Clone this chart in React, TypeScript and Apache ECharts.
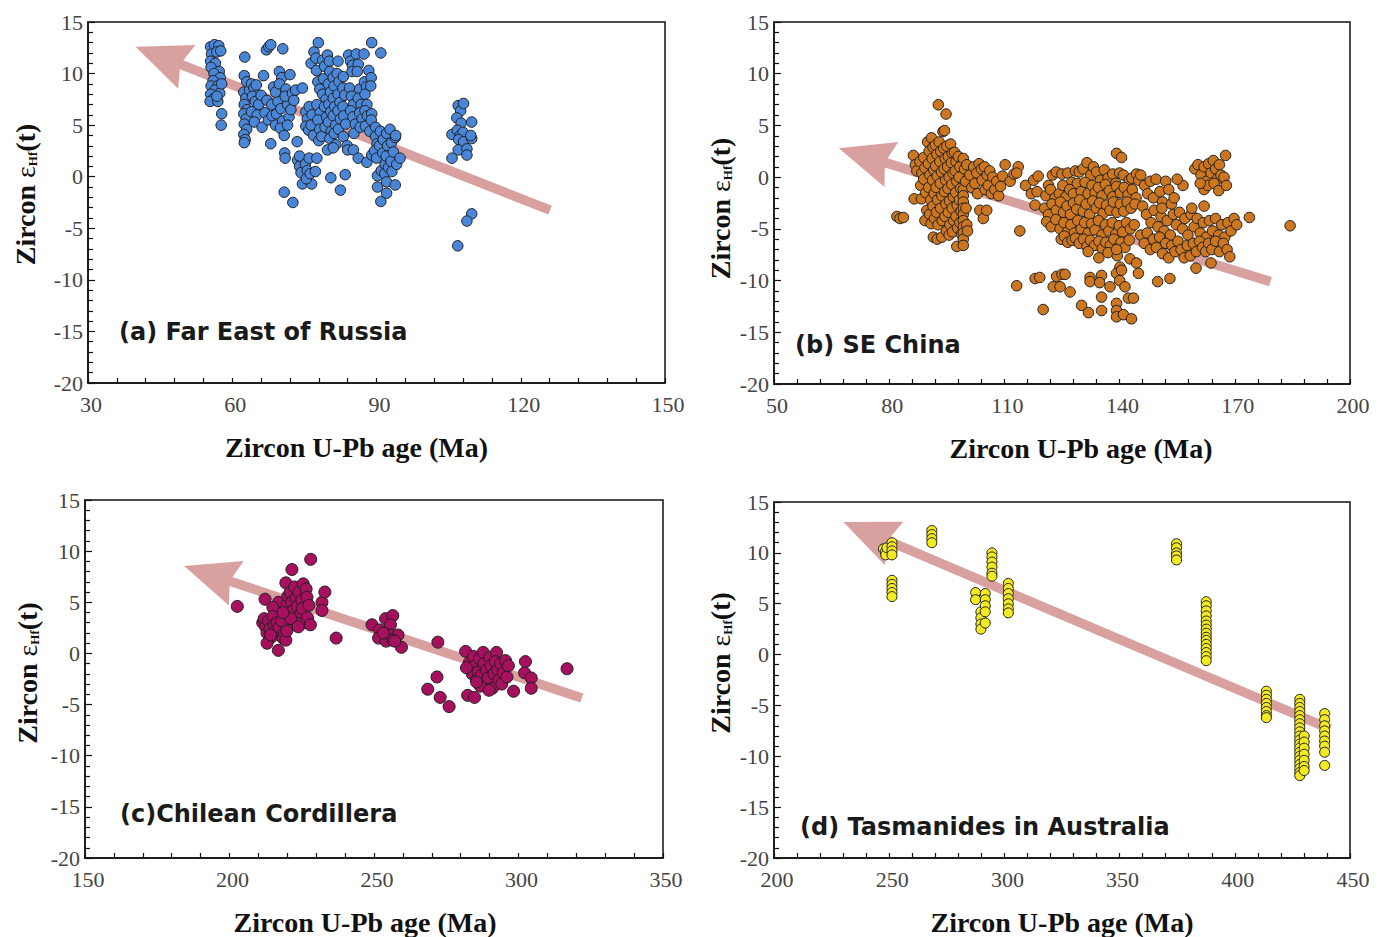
import React, { useEffect, useRef } from "react";
import * as echarts from "echarts";

// ---------- data ----------
const panelTitles = [
  "(a) Far East of Russia",
  "(b) SE China",
  "(c)Chilean Cordillera",
  "(d) Tasmanides in Australia",
];
const xName = "Zircon U-Pb age (Ma)";
const yName = "Zircon {eps|ε}{sub|Hf}(t)";
const xMin = [30, 50, 150, 200];
const xMax = [150, 200, 350, 450];
const xStep = [30, 30, 50, 50];
const yMin = -20;
const yMax = 15;
const yStep = 5;

const dataA = [
  [55.5,12.6],[56.3,12.8],[57.2,12.7],[55.7,11.9],[56.8,12.1],[57.6,12.2],[55.5,11.2],[56.5,11.0],[55.6,10.6],[57.3,10.2],
  [56.2,10.0],[57.5,9.6],[56.0,9.3],[55.6,8.8],[57.0,8.8],[56.4,8.4],[55.5,8.0],[57.4,8.1],[56.2,7.6],[55.4,7.3],
  [57.0,7.3],[56.8,7.8],[57.8,6.1],[57.7,5.0],[57.8,9.0],
  [62.6,11.6],[62.5,9.8],[63.0,9.2],[62.4,8.2],[62.8,7.6],[62.5,7.0],[63.1,6.5],[62.4,6.1],[62.9,5.6],[62.5,5.1],
  [63.0,4.6],[62.4,4.1],[62.7,3.6],[62.5,3.3],[63.6,8.4],[64.0,9.0],[64.5,8.6],[65.0,8.9],[64.2,7.8],[64.8,7.3],
  [64.0,6.3],[65.2,6.0],[64.6,5.3],[65.5,7.0],[66.0,7.9],[66.5,9.8],[66.2,4.8],[67.1,12.3],[67.6,12.6],[68.0,12.8],
  [68.0,3.2],[66.8,6.2],[67.5,5.5],[67.2,7.4],[68.2,7.0],[68.6,8.7],[68.3,5.9],[69.0,5.0],[69.2,6.1],[69.5,7.3],
  [69.0,8.2],[69.8,10.2],[70.3,9.6],[69.8,9.0],[70.1,6.6],[70.5,5.4],[70.0,4.7],[70.8,4.0],[70.5,12.4],[70.9,2.3],
  [71.0,1.8],[70.8,-1.5],[71.2,8.5],[71.5,7.0],[71.0,7.8],[71.8,5.8],[71.5,5.0],[72.0,9.9],[72.2,6.5],[72.5,8.1],
  [72.8,7.4],[73.2,8.4],[72.6,-2.5],[73.5,3.4],[73.6,1.6],[74.0,1.0],[74.3,0.4],[74.6,-0.7],[74.0,2.0],[74.6,8.6],
  [75.2,1.2],[75.6,0.6],[76.0,1.8],[76.5,-0.7],[75.4,-0.2],[76.2,0.3],
  [75.3,6.3],[75.6,5.6],[75.3,4.9],[75.9,4.5],[76.4,11.0],[76.0,6.8],[76.6,6.0],[76.4,5.0],[76.9,4.0],[77.0,12.1],
  [77.4,11.5],[77.9,13.0],[77.5,10.3],[77.8,9.2],[78.2,8.5],[77.6,7.0],[78.3,6.2],[77.8,5.5],[78.2,4.6],[78.0,3.5],
  [78.6,3.9],[77.3,0.5],[77.6,1.8],[78.8,11.3],[79.2,10.7],[79.0,9.5],[78.8,8.0],[79.5,7.5],[79.2,6.8],[79.6,5.8],
  [79.3,4.8],[79.8,11.8],[80.2,11.2],[80.3,10.2],[80.0,9.0],[80.4,8.2],[80.1,7.0],[80.5,6.3],[80.0,5.3],[80.6,4.4],
  [80.3,3.7],[79.8,2.6],[80.5,-0.1],[81.0,9.6],[81.2,8.8],[81.0,7.6],[81.3,6.8],[81.0,5.9],[81.5,5.0],[81.2,4.2],
  [81.5,3.1],[81.0,2.8],[82.0,11.2],[81.8,10.0],[82.2,9.2],[82.0,8.0],[82.4,7.2],[82.0,6.4],[82.5,5.6],[82.1,4.6],
  [82.5,-1.3],[83.1,9.7],[83.0,8.6],[83.4,7.9],[83.0,6.8],[83.2,5.9],[83.6,5.1],[83.1,3.9],[83.9,3.0],[84.0,2.6],
  [83.5,0.2],
  [84.2,11.8],[84.6,11.2],[85.0,10.8],[84.9,10.2],[84.4,8.6],[84.8,7.8],[85.2,7.0],[84.6,6.4],[85.1,5.8],[85.6,5.1],
  [85.3,4.2],[85.2,2.6],[85.8,11.9],[86.2,10.9],[86.0,10.2],[86.5,8.5],[86.2,7.6],[86.8,7.0],[86.5,6.2],[87.0,5.6],
  [86.6,4.8],[86.2,1.8],[87.4,11.9],[87.5,9.2],[87.9,8.7],[87.6,8.0],[88.0,7.0],[87.6,6.4],[88.1,5.9],[87.7,4.9],
  [88.0,1.4],[88.4,10.3],[88.9,9.6],[88.8,8.8],[89.0,6.1],[88.9,5.5],[88.6,4.4],[89.0,13.0],[89.0,2.1],[89.8,4.8],
  [89.8,3.9],[90.1,3.2],[89.6,2.5],[90.0,1.8],[90.9,12.0],[90.2,0.1],[90.2,-1.0],[90.9,-2.4],
  [90.8,4.4],[90.6,3.0],[91.0,0.6],[91.4,3.6],[91.3,2.3],[91.8,1.2],[91.7,0.3],[92.1,4.2],[92.3,3.0],[92.0,2.0],
  [92.5,0.9],[92.1,-0.5],[92.1,-1.6],[92.8,4.6],[93.1,3.3],[93.0,1.5],[93.2,0.5],[93.5,2.4],[93.9,3.8],[93.9,-0.8],
  [94.2,1.2],[94.9,1.8],[94.0,4.0],
  [107.0,6.9],[107.5,6.4],[108.1,7.1],[106.7,5.7],[107.6,5.2],[109.8,5.3],[105.7,4.1],[106.8,4.5],[107.4,4.0],[108.0,4.3],
  [107.1,3.6],[108.1,3.4],[109.8,3.7],[107.0,2.6],[108.8,2.7],[108.8,2.1],[105.7,1.8],[109.8,-3.6],[108.8,-4.3],[106.9,-6.7],
  [109.6,4.0],
];

const dataB = [
  [86.3,2.1],[86.8,1.2],[87.2,0.6],[86.5,-2.1],[88.4,-2.1],[82.0,-3.8],[82.8,-4.0],[83.7,-3.9],
  [88.0,1.5],[88.5,0.4],[88.2,-0.8],[89.0,1.9],[89.3,0.9],[89.0,-0.2],[89.5,-1.5],[89.8,-3.2],[89.3,-4.2],[90.0,3.4],
  [90.4,2.5],[90.2,1.3],[90.6,0.2],[90.3,-1.0],[90.8,-2.2],[90.5,-3.6],[90.9,-4.5],[91.0,3.8],[91.4,2.9],[91.2,1.8],
  [91.6,0.7],[91.3,-0.3],[91.7,-1.6],[91.4,-2.8],[91.8,-4.0],[91.5,-5.8],[92.0,3.1],[92.4,2.2],[92.1,1.1],[92.5,0.1],
  [92.2,-1.0],[92.6,-2.2],[92.3,-3.4],[92.7,-4.6],[92.5,-6.0],[92.8,7.0],[93.0,3.4],[93.4,2.5],[93.2,1.5],[93.6,0.5],
  [93.3,-0.6],[93.7,-1.8],[93.4,-3.0],[93.8,-4.2],[93.7,-5.8],[94.0,4.4],[94.4,4.5],[94.2,2.8],[94.6,1.8],[94.3,0.8],
  [94.7,-0.3],[94.4,-1.4],[94.8,-2.6],[94.5,-3.8],[94.9,-5.2],[94.8,6.1],[95.0,3.0],[95.4,2.0],[95.2,1.0],[95.6,0.0],
  [95.3,-1.1],[95.7,-2.3],[95.4,-3.4],[95.8,-4.6],[95.6,-5.6],[96.0,3.2],[96.4,2.3],[96.2,1.4],[96.6,0.4],[96.3,-0.7],
  [96.7,-1.9],[96.4,-3.0],[96.8,-4.2],[96.5,-5.3],[97.0,2.4],[97.4,1.5],[97.2,0.6],[97.6,-0.4],[97.3,-1.5],[97.7,-2.7],
  [97.4,-3.8],[97.8,-4.9],[97.6,-6.7],[98.0,2.0],[98.4,1.0],[98.2,0.0],[98.6,-1.1],[98.3,-2.2],[98.7,-3.3],[98.4,-4.4],
  [98.8,-5.5],[99.3,1.8],[99.3,-1.2],[99.3,-1.8],[99.3,-2.4],[99.3,-3.0],[99.3,-3.6],[99.3,-4.2],[99.3,-4.8],[99.3,-5.4],
  [99.3,-6.0],[99.3,-6.6],[99.6,0.8],[99.9,-0.4],[100.2,1.2],[100.0,-3.0],[100.2,-4.6],[100.4,-5.2],
  [101.0,0.2],[101.5,-1.0],[102.0,1.0],[102.3,-0.6],[102.8,0.4],[103.0,-1.6],[103.4,1.3],[103.6,-3.2],[104.0,0.8],[104.2,-0.3],
  [104.5,-4.0],[104.8,1.0],[105.0,-1.2],[105.4,-3.2],[105.5,0.2],[105.8,-0.8],[106.2,0.6],[106.6,-1.6],[107.0,0.0],[107.5,-1.2],
  [108.0,-0.4],[108.5,-1.8],[109.0,-0.9],[109.5,0.1],[110.2,1.2],[111.5,-0.4],[112.5,0.3],[113.6,1.0],[113.2,0.4],[114.0,-5.2],
  [115.5,-0.8],[117.0,-1.6],[118.0,-2.7],[117.6,-0.3],[118.8,0.1],[118.5,-1.4],
  [121.5,-0.8],[122.5,0.2],[123.5,0.5],[125.0,0.3],[126.5,0.4],[127.5,-0.5],[128.5,0.6],[129.5,0.5],[130.5,0.8],[131.5,1.4],
  [132.5,0.2],[133.2,1.0],[134.0,0.5],[135.0,-0.3],[136.0,0.7],[137.0,-0.1],[138.2,0.3],[139.0,-0.6],[140.0,0.4],[141.0,0.2],
  [142.5,-0.3],[143.2,-0.1],[144.4,0.3],[145.0,-0.3],
  [120.8,-1.8],[122.0,-1.2],[123.2,-2.0],[124.3,-1.6],[125.2,-0.8],[126.0,-1.9],[127.0,-1.2],[128.0,-1.6],[129.0,-0.6],[130.0,-1.4],
  [131.0,-0.5],[131.8,-1.6],[132.8,-0.8],[133.6,-1.5],[134.5,-1.0],[135.4,-1.8],[136.3,-0.7],[137.3,-1.3],[138.2,-1.9],[139.2,-0.9],
  [140.2,-1.5],[141.2,-1.0],[142.2,-1.7],[143.3,-1.2],[144.3,-2.0],
  [120.5,-3.0],[121.5,-3.6],[122.4,-2.6],[123.5,-3.2],[124.6,-2.4],[125.4,-3.4],[126.3,-2.8],[127.2,-3.6],[128.0,-2.5],[128.8,-3.1],
  [129.6,-2.2],[130.5,-3.3],[131.3,-2.6],[132.2,-3.6],[133.0,-2.3],[133.9,-3.0],[134.8,-2.5],[135.7,-3.5],[136.6,-2.7],[137.5,-3.2],
  [138.4,-2.4],[139.3,-3.4],[140.2,-2.6],[141.1,-3.3],[142.0,-2.4],[143.0,-3.0],[144.0,-2.6],
  [121.0,-4.3],[122.2,-4.8],[123.4,-4.1],[124.5,-5.0],[125.5,-4.4],[126.4,-5.3],[127.3,-4.6],[128.2,-5.4],[129.1,-4.2],[130.0,-5.0],
  [130.9,-4.4],[131.8,-5.4],[132.7,-4.5],[133.6,-5.1],[134.5,-4.2],[135.4,-5.6],[136.3,-4.6],[137.2,-5.2],[138.1,-4.4],[139.0,-5.5],
  [139.9,-4.7],[140.8,-5.3],[141.8,-4.4],[142.8,-5.0],[143.8,-4.6],
  [124.8,-6.0],[125.6,-5.7],[126.5,-6.3],[127.6,-6.1],[128.5,-5.9],[129.5,-6.4],[130.6,-6.0],[131.5,-6.7],[132.4,-6.1],[133.5,-6.6],
  [134.6,-6.2],[135.5,-6.9],[136.4,-6.3],[137.6,-6.6],[138.5,-6.0],[139.4,-6.9],[140.4,-6.3],[141.4,-6.8],[142.5,-6.1],[131.8,-7.2],
  [134.6,-7.8],[137.0,-7.3],[139.4,-7.6],[140.1,-8.7],[142.7,-7.9],[144.4,-8.3],[139.2,-7.0],
  [139.2,2.3],[140.5,1.9],
  [145.5,0.2],[146.5,-0.8],[147.3,-1.6],[148.0,-0.4],[148.8,-2.0],[149.5,-0.2],[150.5,-1.4],[151.2,-2.4],[152.0,-0.4],[152.8,-1.2],
  [153.5,-2.6],[146.0,-2.8],[147.0,-3.6],[148.2,-4.4],[149.0,-3.2],[150.0,-4.8],[150.8,-3.8],[151.6,-5.2],[152.4,-4.2],[153.2,-5.6],
  [154.0,-3.6],[154.8,-4.6],[155.6,-3.4],[156.4,-5.0],[157.0,-4.0],[157.8,-5.6],[158.6,-3.6],[159.4,-4.8],[160.2,-4.0],[161.0,-5.4],
  [161.8,-4.4],[162.6,-5.8],[163.4,-4.2],[164.2,-5.2],[165.0,-4.0],[165.8,-5.6],[166.6,-4.6],[167.4,-5.8],[168.2,-4.4],[169.0,-5.2],
  [169.8,-4.0],[170.5,-4.6],[145.5,-5.6],[146.4,-6.4],[147.2,-5.4],[148.0,-7.0],[148.8,-6.0],[149.6,-6.8],[150.4,-5.8],[151.2,-7.4],
  [152.0,-6.4],[152.8,-7.8],[153.6,-6.6],[154.4,-7.2],[155.2,-6.2],[156.0,-7.0],[156.8,-7.8],[157.6,-6.6],[158.4,-7.6],[159.2,-6.4],
  [160.0,-7.2],[160.8,-6.2],[161.6,-6.8],[162.4,-7.2],[163.2,-6.4],[164.0,-7.0],[165.0,-6.2],[166.0,-7.2],[167.0,-6.4],[168.0,-7.0],
  [168.7,-7.7],[163.8,-8.3],[159.9,-8.8],[153.1,-9.8],[149.9,-10.1],[144.9,-9.3],[156.5,-0.8],[173.8,-3.9],[184.4,-4.7],[155.0,-0.2],
  [154.2,-2.0],[158.8,-3.0],[162.0,-2.8],[151.0,-3.0],
  [159.6,0.8],[160.4,1.2],[161.2,0.2],[162.0,1.0],[162.6,-0.4],[163.2,1.3],[163.8,0.4],[164.4,1.6],[165.0,0.8],[165.4,-0.2],
  [166.0,1.2],[166.4,0.2],[162.0,-1.2],[163.0,-0.8],[164.6,-0.6],[165.8,-1.3],[167.2,0.0],[167.8,-0.8],[167.6,2.1],[161.0,-0.6],
  [113.2,-10.5],[118.0,-9.8],[119.2,-9.7],[120.1,-12.8],[122.7,-10.6],[123.6,-9.6],[124.5,-10.6],[125.0,-9.4],[125.8,-9.4],[127.1,-11.1],
  [130.1,-12.4],[131.9,-13.1],[132.3,-9.7],[132.3,-10.1],[135.3,-9.5],[135.3,-11.6],[135.3,-12.9],[137.5,-10.6],[139.2,-9.3],[140.0,-10.0],
  [141.4,-10.6],[139.2,-12.2],[139.2,-12.9],[139.2,-13.5],[141.0,-13.3],[142.3,-11.7],[143.1,-13.7],[140.5,-9.0],[143.6,-11.7],[134.8,-10.2],
];

const dataC = [
  [202.7,4.6],[212.3,5.3],[217.0,5.0],[215.0,4.5],[211.5,3.0],[212.0,3.4],[212.5,2.6],[213.0,2.0],[213.5,3.2],[214.0,2.4],
  [214.5,1.6],[215.0,3.6],[215.5,2.8],[216.0,2.2],[216.5,3.0],[217.2,2.6],[218.0,3.2],[218.5,1.5],[219.0,2.0],[213.0,1.0],
  [214.2,1.8],[216.9,0.3],[219.5,1.3],[219.5,6.9],[221.6,8.2],[228.1,9.2],[220.0,4.8],[220.5,3.8],[220.2,5.6],[221.0,6.0],
  [221.5,5.0],[222.0,4.2],[222.5,6.5],[222.8,3.3],[223.0,5.4],[223.5,4.6],[224.0,6.0],[224.5,3.8],[225.0,5.2],[225.5,6.8],
  [225.2,4.4],[226.0,3.0],[226.5,6.3],[226.8,5.5],[227.0,3.5],[227.5,4.7],[228.0,2.8],[222.0,2.8],[224.0,2.9],[221.2,3.4],
  [232.0,5.0],[232.0,4.2],[233.0,6.0],[236.9,1.5],[219.8,2.2],[218.5,4.0],[223.8,2.6],
  [249.3,2.8],[251.9,2.3],[251.6,1.5],[254.0,3.4],[256.5,3.7],[255.7,2.8],[254.2,1.2],[255.7,1.8],[258.3,1.8],[259.5,0.6],
  [256.5,1.3],[253.2,2.0],[257.2,1.2],
  [272.1,1.1],[271.8,-2.3],[268.6,-3.5],[272.9,-4.3],[276.0,-5.2],
  [281.7,0.2],[283.0,-0.9],[283.5,-1.5],[284.0,-2.0],[284.5,-0.3],[285.0,-1.2],[285.5,-2.6],[286.0,-1.8],[286.5,-0.5],[287.0,-2.2],
  [287.8,0.1],[288.0,-1.0],[288.5,-3.0],[289.0,-1.6],[289.5,-2.4],[290.0,-0.4],[290.5,-1.2],[291.0,-3.4],[291.5,-2.0],[292.4,0.1],
  [292.0,-0.8],[292.8,-1.6],[293.2,-2.6],[293.8,-1.0],[294.2,-3.0],[294.8,-1.9],[295.5,-0.7],[296.0,-2.3],[282.4,-4.1],[284.8,-4.3],
  [282.0,-1.4],[286.8,-3.2],[289.8,-3.6],[302.4,-0.8],[302.1,-1.9],[304.4,-2.4],[304.4,-3.4],[298.3,-3.7],[316.8,-1.5],[296.5,-1.2],
  [285.5,-2.8],
];

const dataD = [
  [247.5,10.4],[248.3,10.1],[248.5,9.8],[249.0,10.5],[251.2,11.0],[251.2,10.6],[251.2,10.2],[251.2,9.8],
  [251.2,7.3],[251.2,6.9],[251.2,6.5],[251.2,6.1],[251.2,5.7],
  [268.5,12.2],[268.5,11.8],[268.5,11.4],[268.5,11.0],
  [287.5,6.1],[287.5,5.4],[289.8,4.2],[289.8,3.6],[289.8,3.0],[289.8,2.5],
  [291.7,6.0],[291.7,5.4],[291.7,4.8],[291.7,4.2],[291.7,3.1],
  [294.6,10.0],[294.6,9.6],[294.6,9.1],[294.6,8.6],[294.6,8.0],[294.6,7.7],
  [301.7,7.0],[301.7,6.5],[301.7,6.0],[301.7,5.5],[301.7,5.0],[301.7,4.5],[301.7,4.1],
  [374.7,10.9],[374.7,10.5],[374.7,10.0],[374.7,9.7],[374.7,9.3],
  [387.6,5.2],[387.6,4.8],[387.6,4.3],[387.6,3.8],[387.6,3.3],[387.6,2.9],[387.6,2.5],[387.6,2.1],[387.6,1.7],[387.6,1.4],
  [387.6,1.0],[387.6,0.6],[387.6,0.2],[387.6,-0.2],[387.6,-0.6],
  [413.7,-3.6],[413.7,-4.0],[413.7,-4.4],[413.7,-4.8],[413.7,-5.2],[413.7,-5.6],[413.7,-6.0],[413.7,-6.2],
  [428.2,-4.4],[428.2,-4.8],[428.2,-5.2],[428.2,-5.6],[428.2,-6.0],[428.2,-6.4],[428.2,-6.8],[428.2,-7.2],[428.2,-7.6],[428.2,-8.0],
  [428.2,-8.4],[428.2,-8.8],[428.2,-9.2],[428.2,-9.6],[428.2,-10.0],[428.2,-10.4],[428.2,-10.8],[428.2,-11.2],[428.2,-11.6],[428.2,-11.9],
  [430.1,-8.0],[430.1,-8.6],[430.1,-9.2],[430.1,-9.8],[430.1,-10.4],[430.1,-11.0],[430.1,-11.4],
  [439.0,-5.8],[439.0,-6.4],[439.0,-7.0],[439.0,-7.5],[439.0,-8.0],[439.0,-8.5],[439.0,-9.0],[439.0,-9.6],[439.0,-10.9],
];

// trend arrows: [tailX, tailY, tipX, tipY]
const arrowA = [126.1, -3.24, 39.9, 12.61];
const arrowB = [179.3, -10.1, 66.9, 2.79];
const arrowC = [321.9, -4.35, 184.3, 8.55];
const arrowD = [441.3, -7.3, 230.1, 13.04];

// ---------- styling ----------
const panelData = [dataA, dataB, dataC, dataD];
const arrows = [arrowA, arrowB, arrowC, arrowD];
const colors = ["#4a86d8", "#cc761f", "#a6105e", "#f3ea22"];
const symbolSizes = [10.5, 10.5, 12, 10];
const grids = [
  { left: 88, top: 22, width: 577, height: 361 },
  { left: 774, top: 22, width: 576, height: 362 },
  { left: 85, top: 500, width: 578, height: 362 },
  { left: 774, top: 502, width: 576, height: 362 },
];
const xNamePad = [[0, 40, 0, 0], [0, 0, 0, 38], [0, 18, 0, 0], [0, 0, 0, 0]];
const yNamePad = [[0, 0, 0, 16], [0, 11, 0, 0], [0, 0, 0, 12], [0, 0, 0, 34]];
const yNameGap = [49, 40, 44, 40];
const titlePos = [[119, 332], [795, 345], [120, 814], [800, 827]];
const arrowColor = "#d9a0a0";
const serif = "'Liberation Serif', 'Times New Roman', serif";

function renderArrow(params: any, api: any) {
  const t = api.coord([api.value(0), api.value(1)]);
  const h = api.coord([api.value(2), api.value(3)]);
  const dx = h[0] - t[0];
  const dy = h[1] - t[1];
  const L = Math.hypot(dx, dy);
  const ux = dx / L;
  const uy = dy / L;
  const nx = -uy;
  const ny = ux;
  const headLen = 55;
  const halfW = 23.5;
  const notch = 48;
  const bx = h[0] - ux * headLen;
  const by = h[1] - uy * headLen;
  const sx = h[0] - ux * (notch - 2);
  const sy = h[1] - uy * (notch - 2);
  return {
    type: "group",
    children: [
      {
        type: "line",
        shape: { x1: t[0], y1: t[1], x2: sx, y2: sy },
        style: { stroke: arrowColor, lineWidth: 9.5, lineCap: "butt" },
      },
      {
        type: "polygon",
        shape: {
          points: [
            [h[0], h[1]],
            [bx + nx * halfW, by + ny * halfW],
            [h[0] - ux * notch, h[1] - uy * notch],
            [bx - nx * halfW, by - ny * halfW],
          ],
        },
        style: { fill: arrowColor, stroke: "none" },
      },
    ],
  };
}

export default function App() {
  const ref = useRef<HTMLDivElement>(null);
  useEffect(() => {
    if (!ref.current) return;
    const chart = echarts.init(ref.current, null, { renderer: "svg" });
    const option: any = {
      animation: false,
      backgroundColor: "#ffffff",
      grid: grids.map((g) => ({ ...g, show: true, borderColor: "#111", borderWidth: 1.5, backgroundColor: "transparent" })),
      xAxis: grids.map((_, i) => ({
        type: "value",
        gridIndex: i,
        min: xMin[i],
        max: xMax[i],
        interval: xStep[i],
        name: xName,
        nameLocation: "middle",
        nameGap: 50,
        nameTextStyle: { fontFamily: serif, fontWeight: "bold", fontSize: 28, color: "#111", padding: xNamePad[i] },
        axisLine: { show: true, onZero: false, lineStyle: { color: "#111", width: 1.5 } },
        axisTick: { show: true, inside: true, length: 5, lineStyle: { color: "#111", width: 1.2 } },
        minorTick: { show: true, splitNumber: 5, length: 5, lineStyle: { color: "#111", width: 1.2 } },
        axisLabel: { fontFamily: serif, fontSize: 22, color: "#444", margin: 10, padding: [0, 0, 0, 6] },
        splitLine: { show: false },
      })),
      yAxis: grids.map((_, i) => ({
        type: "value",
        gridIndex: i,
        min: yMin,
        max: yMax,
        interval: yStep,
        name: yName,
        nameLocation: "middle",
        nameGap: yNameGap[i],
        nameRotate: 90,
        nameTextStyle: {
          fontFamily: serif,
          fontWeight: "bold",
          fontSize: 28,
          color: "#111",
          padding: yNamePad[i],
          rich: {
            eps: { fontFamily: serif, fontSize: 28, fontWeight: "normal", color: "#111" },
            sub: { fontFamily: serif, fontSize: 13, fontWeight: "bold", color: "#111", verticalAlign: "bottom", lineHeight: 24 },
          },
        },
        axisLine: { show: true, onZero: false, lineStyle: { color: "#111", width: 1.5 } },
        axisTick: { show: true, inside: true, length: 7, lineStyle: { color: "#111", width: 1.2 } },
        minorTick: { show: true, splitNumber: 5, length: 5, lineStyle: { color: "#111", width: 1.2 } },
        axisLabel: { fontFamily: serif, fontSize: 22, color: "#444", margin: 5 },
        splitLine: { show: false },
      })),
      series: [
        ...arrows.map((a, i) => ({
          type: "custom",
          xAxisIndex: i,
          yAxisIndex: i,
          data: [a],
          encode: { x: [0, 2], y: [1, 3] },
          renderItem: renderArrow,
          silent: true,
          z: 1,
        })),
        ...panelData.map((d, i) => ({
          type: "scatter",
          xAxisIndex: i,
          yAxisIndex: i,
          data: d,
          z: 3,
          symbol: "circle",
          symbolSize: symbolSizes[i],
          itemStyle: { color: colors[i], borderColor: "#1f1f1f", borderWidth: 1, opacity: 1 },
          emphasis: { disabled: true },
        })),
      ],
      graphic: panelTitles.map((t, i) => ({
        type: "text",
        x: titlePos[i][0],
        y: titlePos[i][1],
        z: 10,
        style: {
          text: t,
          fontFamily: "'DejaVu Sans', sans-serif",
          fontWeight: "bold",
          fontSize: 24,
          fill: "#1a1a1a",
          verticalAlign: "middle",
          align: "left",
        },
      })),
    };
    chart.setOption(option);
    return () => chart.dispose();
  }, []);
  return (
    <div
      ref={ref}
      style={{ position: "absolute", left: 0, top: 0, width: 1381, height: 937, background: "#fff" }}
    />
  );
}
